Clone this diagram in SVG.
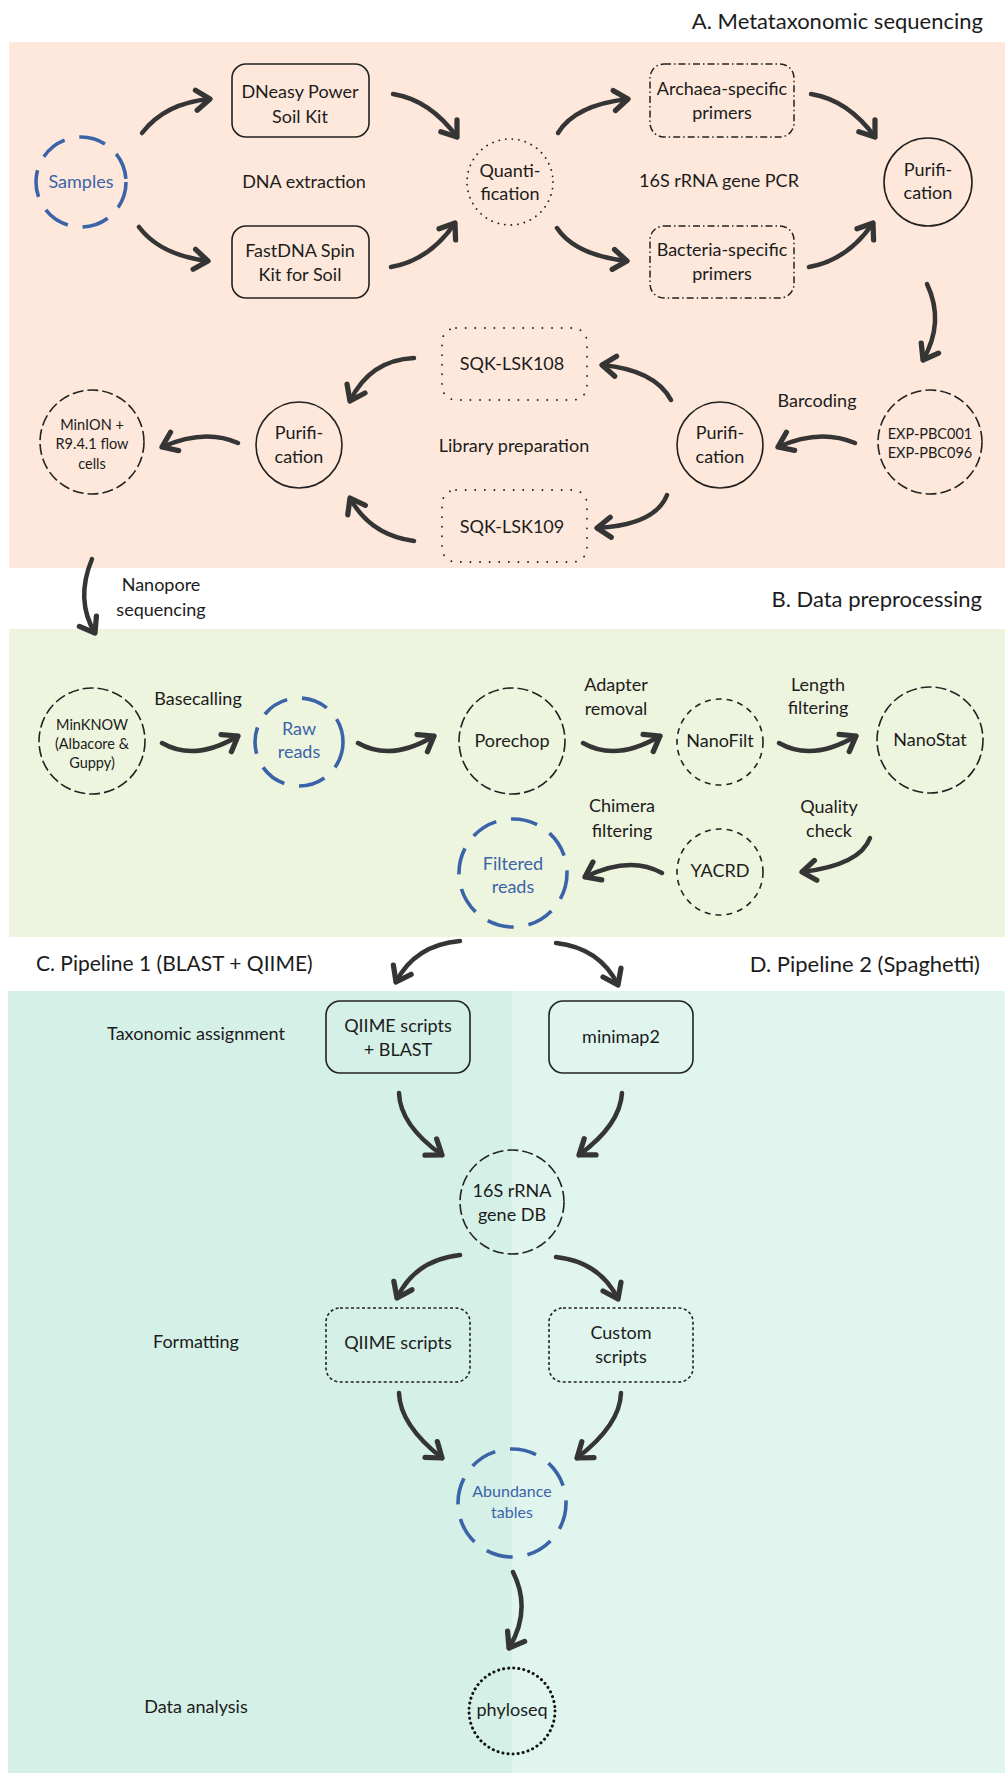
<svg xmlns="http://www.w3.org/2000/svg" width="1005" height="1773" viewBox="0 0 1005 1773">
<defs>
<marker id="ah" markerUnits="userSpaceOnUse" markerWidth="30" markerHeight="30" refX="0" refY="0" viewBox="-16 -12 20 24" orient="auto" overflow="visible">
<path d="M-11,-8 L0,0 L-11,8" fill="none" stroke="#353535" stroke-width="4.2" stroke-linecap="round" stroke-linejoin="round"/>
</marker>
</defs>
<style>
text{font-family:Lato,"Open Sans","Liberation Sans",sans-serif;fill:#1c1c1c;text-anchor:middle}
.t{font-size:22px;text-anchor:end}
.tl{font-size:21px;text-anchor:start}
.n{font-size:18px}
.s{font-size:14.5px}
.a{font-size:16px}
.b{fill:#3b64a8}
.lab{font-size:18px}
.solid{fill:none;stroke:#222;stroke-width:1.6}
.blue{fill:none;stroke:#3b64a8;stroke-width:3.6;stroke-dasharray:27 15}
.ldash{fill:none;stroke:#222;stroke-width:1.6;stroke-dasharray:11 4}
.mdash{fill:none;stroke:#222;stroke-width:1.6;stroke-dasharray:6 5}
.fdash{fill:none;stroke:#222;stroke-width:1.6;stroke-dasharray:3 2.5}
.dot{fill:none;stroke:#222;stroke-width:1.8;stroke-dasharray:0.1 6.5;stroke-linecap:round}
.sdot{fill:none;stroke:#222;stroke-width:1.8;stroke-dasharray:0.1 9.5;stroke-linecap:round}
.bdot{fill:none;stroke:#111;stroke-width:3;stroke-dasharray:0.1 5;stroke-linecap:round}
.dd{fill:none;stroke:#222;stroke-width:1.5;stroke-dasharray:7 3 1.5 3}
.c{fill:none;stroke:#353535;stroke-width:4.5;stroke-linecap:round;marker-end:url(#ah)}
</style>

<!-- backgrounds -->
<rect x="9" y="42" width="996" height="526" fill="#fde8db"/>
<rect x="9" y="629" width="996" height="308" fill="#eef5df"/>
<rect x="8" y="991" width="504" height="782" fill="#d5f0e6"/>
<rect x="512" y="991" width="493" height="782" fill="#e0f5ee"/>

<!-- section titles -->
<text class="t" x="983" y="29">A. Metataxonomic sequencing</text>
<text class="t" x="982" y="607">B. Data preprocessing</text>
<text class="tl" x="36" y="971">C. Pipeline 1 (BLAST + QIIME)</text>
<text class="t" x="980" y="972">D. Pipeline 2 (Spaghetti)</text>

<!-- step labels -->
<g id="labels">
<text class="lab" x="304" y="188">DNA extraction</text>
<text class="lab" x="719" y="187">16S rRNA gene PCR</text>
<text class="lab" x="817" y="407">Barcoding</text>
<text class="lab" x="514" y="452">Library preparation</text>
<text class="lab" x="161" y="591">Nanopore</text>
<text class="lab" x="161" y="616">sequencing</text>
<text class="lab" x="198" y="705">Basecalling</text>
<text class="lab" x="616" y="691">Adapter</text>
<text class="lab" x="616" y="715">removal</text>
<text class="lab" x="818" y="691">Length</text>
<text class="lab" x="818" y="714">filtering</text>
<text class="lab" x="829" y="813">Quality</text>
<text class="lab" x="829" y="837">check</text>
<text class="lab" x="622" y="812">Chimera</text>
<text class="lab" x="622" y="837">filtering</text>
<text class="lab" x="196" y="1040">Taxonomic assignment</text>
<text class="lab" x="196" y="1348">Formatting</text>
<text class="lab" x="196" y="1713">Data analysis</text>
</g>

<!-- nodes -->
<g id="samples"><circle class="blue" cx="81" cy="182" r="45"/><text class="n b" x="81" y="188">Samples</text></g>
<g id="dneasy"><rect class="solid" x="232" y="64" width="137" height="73" rx="14"/><text class="n" x="300" y="98">DNeasy Power</text><text class="n" x="300" y="123">Soil Kit</text></g>
<g id="fastdna"><rect class="solid" x="232" y="226" width="137" height="72" rx="14"/><text class="n" x="300" y="257">FastDNA Spin</text><text class="n" x="300" y="281">Kit for Soil</text></g>
<g id="quant"><circle class="dot" cx="510" cy="182" r="43"/><text class="n" x="510" y="177">Quanti-</text><text class="n" x="510" y="200">fication</text></g>
<g id="archaea"><rect class="dd" x="650" y="64" width="144" height="73" rx="14"/><text class="n" x="722" y="95">Archaea-specific</text><text class="n" x="722" y="119">primers</text></g>
<g id="bacteria"><rect class="dd" x="650" y="226" width="144" height="72" rx="14"/><text class="n" x="722" y="256">Bacteria-specific</text><text class="n" x="722" y="280">primers</text></g>
<g id="purif1"><circle class="solid" cx="928" cy="182" r="44"/><text class="n" x="928" y="176">Purifi-</text><text class="n" x="928" y="199">cation</text></g>
<g id="exp"><circle class="ldash" cx="930" cy="442" r="52"/><text class="s" x="930" y="439">EXP-PBC001</text><text class="s" x="930" y="458">EXP-PBC096</text></g>
<g id="purif2"><circle class="solid" cx="720" cy="445" r="43"/><text class="n" x="720" y="439">Purifi-</text><text class="n" x="720" y="463">cation</text></g>
<g id="sqk108"><rect class="sdot" x="442" y="328" width="145" height="72" rx="14"/><text class="n" x="512" y="370">SQK-LSK108</text></g>
<g id="sqk109"><rect class="sdot" x="442" y="490" width="145" height="72" rx="14"/><text class="n" x="512" y="533">SQK-LSK109</text></g>
<g id="purif3"><circle class="solid" cx="299" cy="445" r="43"/><text class="n" x="299" y="439">Purifi-</text><text class="n" x="299" y="463">cation</text></g>
<g id="minion"><circle class="ldash" cx="92" cy="442" r="52"/><text class="s" x="92" y="430">MinION +</text><text class="s" x="92" y="449">R9.4.1 flow</text><text class="s" x="92" y="469">cells</text></g>

<g id="minknow"><circle class="ldash" cx="92" cy="741" r="53"/><text class="s" x="92" y="730">MinKNOW</text><text class="s" x="92" y="749">(Albacore &amp;</text><text class="s" x="92" y="768">Guppy)</text></g>
<g id="raw"><circle class="blue" cx="299" cy="742" r="44"/><text class="n b" x="299" y="735">Raw</text><text class="n b" x="299" y="758">reads</text></g>
<g id="porechop"><circle class="ldash" cx="512" cy="741" r="53"/><text class="n" x="512" y="747">Porechop</text></g>
<g id="nanofilt"><circle class="mdash" cx="720" cy="742" r="43"/><text class="n" x="720" y="747">NanoFilt</text></g>
<g id="nanostat"><circle class="ldash" cx="930" cy="740" r="53"/><text class="n" x="930" y="746">NanoStat</text></g>
<g id="yacrd"><circle class="mdash" cx="720" cy="872" r="43"/><text class="n" x="720" y="877">YACRD</text></g>
<g id="filtered"><circle class="blue" cx="513" cy="873" r="54"/><text class="n b" x="513" y="870">Filtered</text><text class="n b" x="513" y="893">reads</text></g>

<g id="qiimeblast"><rect class="solid" x="326" y="1001" width="144" height="72" rx="14"/><text class="n" x="398" y="1032">QIIME scripts</text><text class="n" x="398" y="1056">+ BLAST</text></g>
<g id="minimap2"><rect class="solid" x="549" y="1001" width="144" height="72" rx="14"/><text class="n" x="621" y="1043">minimap2</text></g>
<g id="db"><circle class="ldash" cx="512" cy="1202" r="52"/><text class="n" x="512" y="1197">16S rRNA</text><text class="n" x="512" y="1221">gene DB</text></g>
<g id="qiimescripts"><rect class="fdash" x="326" y="1308" width="144" height="74" rx="14"/><text class="n" x="398" y="1349">QIIME scripts</text></g>
<g id="custom"><rect class="fdash" x="549" y="1308" width="144" height="74" rx="14"/><text class="n" x="621" y="1339">Custom</text><text class="n" x="621" y="1363">scripts</text></g>
<g id="abund"><circle class="blue" cx="512" cy="1503" r="54"/><text class="a b" x="512" y="1497">Abundance</text><text class="a b" x="512" y="1518">tables</text></g>
<g id="phyloseq"><circle class="bdot" cx="512" cy="1711" r="43"/><text class="n" x="512" y="1716">phyloseq</text></g>

<!-- connectors -->
<g id="connectors">
<path class="c" d="M142,133 Q165,103 210,99"/>
<path class="c" d="M139,227 Q160,255 208,261"/>
<path class="c" d="M393,94 Q430,100 457,137"/>
<path class="c" d="M391,267 Q430,260 455,223"/>
<path class="c" d="M558,133 Q575,105 628,99"/>
<path class="c" d="M557,228 Q575,255 627,261"/>
<path class="c" d="M811,94 Q848,100 875,137"/>
<path class="c" d="M809,267 Q848,260 873,223"/>
<path class="c" d="M927,284 Q945,322 923,360"/>
<path class="c" d="M855,443 Q820,428 778,447"/>
<path class="c" d="M671,400 Q655,370 602,365"/>
<path class="c" d="M667,495 Q655,525 597,528"/>
<path class="c" d="M414,358 Q370,360 350,401"/>
<path class="c" d="M414,541 Q370,535 350,498"/>
<path class="c" d="M238,443 Q205,428 162,447"/>
<path class="c" d="M92,559 Q75,600 95,633"/>
<path class="c" d="M162,743 Q195,762 238,736"/>
<path class="c" d="M358,743 Q391,762 434,736"/>
<path class="c" d="M583,743 Q616,762 660,736"/>
<path class="c" d="M779,743 Q812,762 856,736"/>
<path class="c" d="M870,838 Q860,865 802,872"/>
<path class="c" d="M662,873 Q630,855 585,877"/>
<path class="c" d="M460,941 Q415,945 396,982"/>
<path class="c" d="M556,943 Q600,948 618,985"/>
<path class="c" d="M399,1093 Q400,1125 442,1155"/>
<path class="c" d="M622,1093 Q620,1125 579,1155"/>
<path class="c" d="M460,1255 Q415,1260 397,1298"/>
<path class="c" d="M556,1257 Q600,1262 618,1299"/>
<path class="c" d="M399,1393 Q400,1425 442,1458"/>
<path class="c" d="M621,1393 Q620,1425 577,1458"/>
<path class="c" d="M513,1572 Q532,1610 509,1648"/>
</g>
</svg>
